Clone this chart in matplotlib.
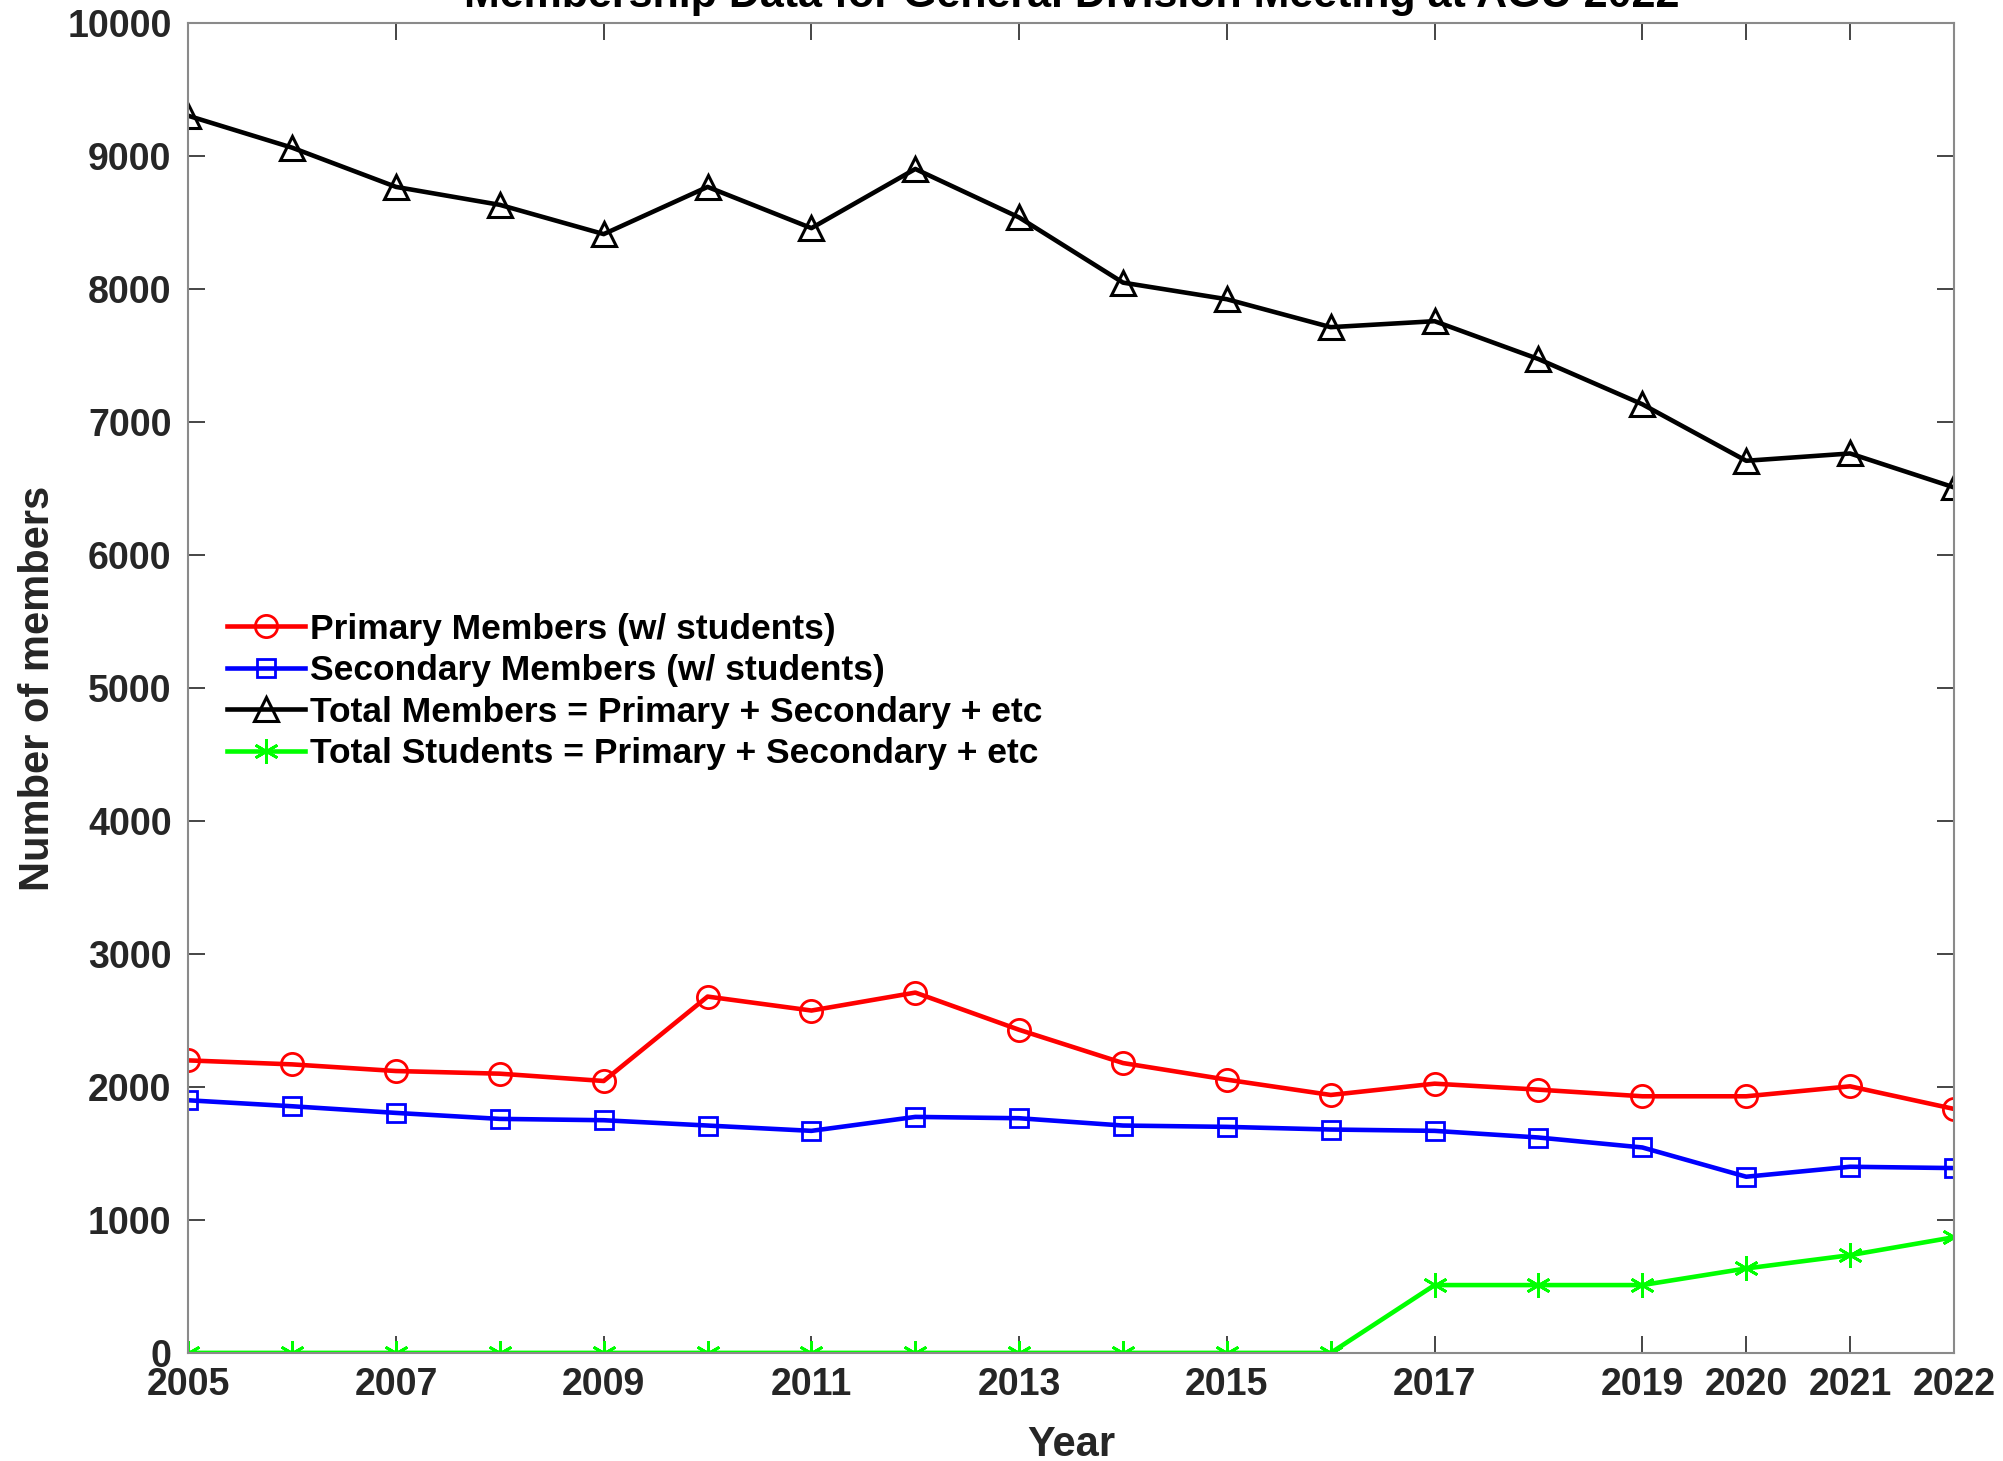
import matplotlib
matplotlib.use("Agg")
import matplotlib.pyplot as plt
import numpy as np

plt.rcParams['font.family'] = ['Liberation Sans', 'DejaVu Sans']
plt.rcParams['font.weight'] = 'bold'

# membership counts per year
years = np.arange(2005, 2023)
primary = [2200, 2170, 2120, 2100, 2045, 2680, 2575, 2710, 2430, 2180,
           2055, 1940, 2025, 1980, 1930, 1930, 2005, 1835]
secondary = [1900, 1855, 1805, 1760, 1750, 1710, 1670, 1775, 1765, 1710,
             1700, 1680, 1670, 1620, 1545, 1325, 1400, 1390]
total = [9305, 9065, 8770, 8635, 8415, 8770, 8460, 8905, 8540, 8050,
         7925, 7715, 7760, 7475, 7135, 6710, 6765, 6510]
students = [0, 0, 0, 0, 0, 0, 0, 0, 0, 0,
            0, 0, 510, 510, 510, 635, 735, 870]

xticks = [2005, 2007, 2009, 2011, 2013, 2015, 2017, 2019, 2020, 2021, 2022]
yticks = np.arange(0, 10001, 1000)

labels = ['Primary Members (w/ students)',
          'Secondary Members (w/ students)',
          'Total Members = Primary + Secondary + etc',
          'Total Students = Primary + Secondary + etc']

fig = plt.figure(figsize=(20.03, 14.61), dpi=100)
ax = fig.add_axes([0.094, 0.074, 0.8815, 0.91])

lw = 3.3
ax.plot(years, primary, 'r-o', lw=lw, ms=16, mfc='none', mew=2.0, label=labels[0])
ax.plot(years, secondary, 'b-s', lw=lw, ms=13, mfc='none', mew=2.0, label=labels[1])
ax.plot(years, total, 'k-^', lw=lw, ms=17, mfc='none', mew=2.2, label=labels[2])
# asterisk marker: three crossing strokes
ax.plot(years, students, '-', marker=(6, 2, 0), color=(0, 1, 0), lw=lw, ms=18,
        mew=2.0, label=labels[3])

ax.set_xlim(2005, 2022)
ax.set_ylim(0, 10000)
ax.set_xticks(xticks)
ax.set_yticks(yticks)
ax.tick_params(direction='in', top=True, right=True, length=12, width=1.2,
               colors='#262626')
ax.tick_params(axis='y', labelsize=27, pad=12)
ax.tick_params(axis='x', labelsize=27, pad=10)
for s in ax.spines.values():
    s.set_color('#8a8a8a')
    s.set_linewidth(1.5)

ax.set_xlabel('Year', fontsize=30, fontweight='bold', labelpad=16, color='#262626')
ax.set_ylabel('Number of members', fontsize=30, fontweight='bold', labelpad=7,
              color='#262626')

fig.text(0.535, 1.003, 'Membership Data for General Division Meeting at AGU 2022',
         ha='center', va='center', fontsize=31, fontweight='bold')

ax.legend(loc='upper left', bbox_to_anchor=(0.012, 0.57), frameon=False,
          fontsize=25.5, handlelength=2.2, handletextpad=0.15, labelspacing=0.24,
          borderpad=0)

fig.savefig('out.png', dpi=100)
